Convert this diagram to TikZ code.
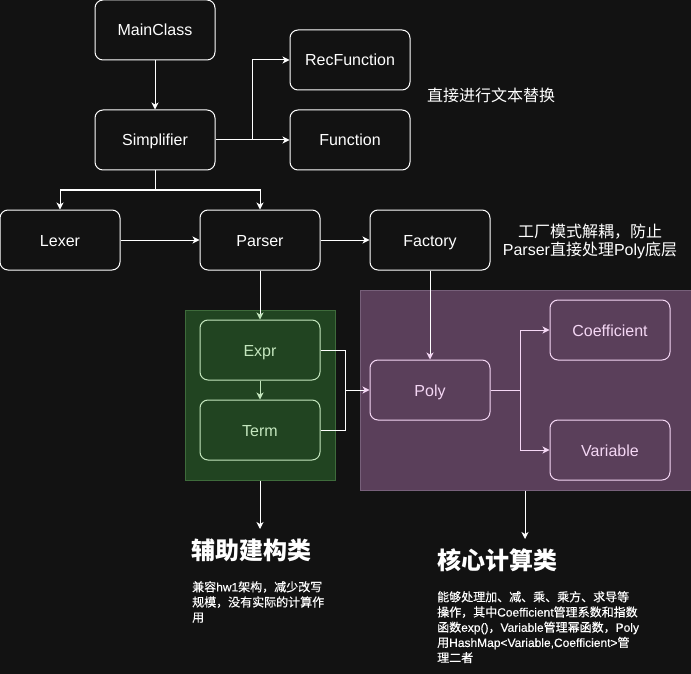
\documentclass[tikz,border=0pt]{standalone}
\usepackage{fontspec}
\setmainfont{Liberation Sans}
\newfontfamily\cjk{Noto Sans CJK SC}
\newfontfamily\cjkm{Noto Sans CJK SC}[FakeBold=0.35]
\newfontfamily\latm{Liberation Sans}[FakeBold=0.35]
\newcommand{\latn}[1]{{\rmfamily #1}}
\newcommand{\latb}[1]{{\latm #1}}
\usetikzlibrary{arrows.meta}
\definecolor{bg}{HTML}{121212}
\definecolor{gfill}{HTML}{214421}
\definecolor{gborder}{HTML}{3E6B3B}
\definecolor{gline}{HTML}{C4E6BE}
\definecolor{pfill}{HTML}{5A3F5A}
\definecolor{pborder}{HTML}{77607A}
\definecolor{pline}{HTML}{F4D7F4}
\tikzset{
  box/.style={rectangle, rounded corners=8pt, draw=white, fill=bg, line width=1pt,
    minimum width=120pt, minimum height=60pt, text=white, font=\fontsize{16}{19}\selectfont,
    text height=13pt, text depth=1pt},
  gbox/.style={box, draw=gline, fill=gfill, text=gline},
  pbox/.style={box, draw=pline, fill=pfill, text=pline},
  tip/.style={-{Stealth[length=7pt,width=7pt,inset=2pt]}},
  wline/.style={draw=white, line width=1pt},
  warr/.style={wline, tip},
  garr/.style={wline, -{Stealth[length=7pt,width=7pt,inset=2pt,color=gline]}},
  parr/.style={wline, -{Stealth[length=7pt,width=7pt,inset=2pt,color=pline]}},
  note/.style={text=white, inner sep=0pt, font=\cjk\fontsize{16}{18}\selectfont},
  title/.style={anchor=west, text=white, inner sep=0pt, font=\cjk\bfseries\fontsize{24}{26}\selectfont},
  para/.style={anchor=north west, text=white, inner sep=0pt, align=left, font=\cjkm\fontsize{12}{15.2}\selectfont},
}
\begin{document}
\begin{tikzpicture}[x=1pt,y=-1pt]
\fill[bg] (0,0) rectangle (691,674);
\useasboundingbox (0,0) rectangle (691,674);

% containers
\node[draw=gborder, fill=gfill, line width=1pt, minimum width=150pt, minimum height=170pt, inner sep=0pt] (gc) at (260,395) {};
\node[draw=pborder, fill=pfill, line width=1pt, minimum width=331pt, minimum height=200pt, inner sep=0pt] (pc) at (525.5,390) {};

% nodes
\node[box] (main) at (155,30) {MainClass};
\node[box] (simp) at (155,140) {Simplifier};
\node[box] (rec) at (350,60) {RecFunction};
\node[box] (func) at (350,140) {Function};
\node[box] (lexer) at (60,240) {Lexer};
\node[box] (parser) at (260,240) {Parser};
\node[box] (factory) at (430,240) {Factory};
\node[gbox] (expr) at (260,350) {Expr};
\node[gbox] (term) at (260,430) {Term};
\node[pbox] (poly) at (430,390) {Poly};
\node[pbox] (coef) at (610,330) {Coefficient};
\node[pbox] (var) at (610,450) {Variable};

% junctions
\coordinate (j1) at (252,140);
\coordinate (j2) at (155,190);
\coordinate (j3) at (345,390);
\coordinate (j4) at (520,390);
\coordinate (gt) at (260,529);
\coordinate (pt) at (525,539);

% connectors
\draw[warr] (main) -- (simp);
\draw[warr] (simp.east) -- (func.west);
\draw[warr] (j1) |- (rec.west);
\draw[wline] (simp.south) -- (j2);
\draw[warr] (j2) -| (lexer.north);
\draw[warr] (j2) -| (parser.north);
\draw[warr] (lexer) -- (parser);
\draw[warr] (parser) -- (factory);
\draw[garr] (parser) -- (expr);
\draw[garr, draw=gline] (expr) -- (term);
\draw[wline] (expr.east) -| (j3);
\draw[wline] (term.east) -| (j3);
\draw[parr] (j3) -- (poly.west);
\draw[parr] (factory) -- (poly);
\draw[wline, draw=pline] (poly.east) -- (j4);
\draw[parr, draw=pline] (j4) |- (coef.west);
\draw[parr, draw=pline] (j4) |- (var.west);
\draw[warr] (gc.south) -- (gt);
\draw[warr] (pc.south -| pt) -- (pt);

% notes
\node[note, anchor=west] (n1) at (427,95) {直接进行文本替换};
\node[note, align=center] (n2) at (590,241) {工厂模式解耦，防止\\\latn{Parser}直接处理\latn{Poly}底层};
\node[title] (t1) at (191,550) {辅助建构类};
\node[title] (t2) at (437,560) {核心计算类};
\node[para] (p1) at (192,581)
  {兼容\latb{hw1}架构，减少改写\\规模，没有实际的计算作\\用};
\node[para] (p2) at (437,591)
  {能够处理加、减、乘、乘方、求导等\\操作，其中\latb{Coefficient}管理系数和指数\\函数\latb{exp()}，\latb{Variable}管理幂函数，\latb{Poly}\\用\latb{HashMap<Variable,Coefficient>}管\\理二者};
\end{tikzpicture}
\end{document}
